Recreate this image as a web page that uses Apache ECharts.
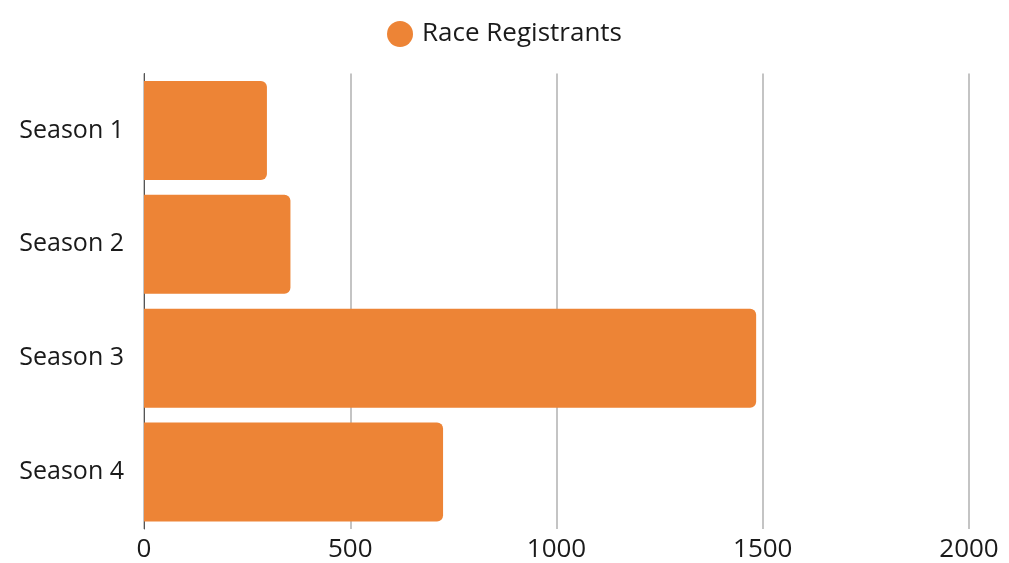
<!DOCTYPE html>
<html>
<head>
<meta charset="utf-8">
<script src="https://cdn.jsdelivr.net/npm/echarts@6/dist/echarts.min.js"></script>
<style>
  html, body { margin: 0; padding: 0; background: #fff; }
  #chart { width: 1009px; height: 563px; }
</style>
</head>
<body>
<div id="chart"></div>
<script>
// Race registrants per season
const seasons = ['Season 1', 'Season 2', 'Season 3', 'Season 4'];
const registrants = [298, 355, 1484, 725];
const xTicks = [0, 500, 1000, 1500, 2000];

const font = '"Open Sans", Inter, sans-serif';
const chart = echarts.init(document.getElementById('chart'));

chart.setOption({
    animation: false,
    backgroundColor: '#ffffff',
    textStyle: { fontFamily: font },
    legend: {
        data: ['Race Registrants'],
        top: 16,
        left: 'center',
        icon: 'circle',
        itemWidth: 26,
        itemHeight: 26,
        itemGap: 10,
        textStyle: { fontSize: 26, color: '#1a1a1a', fontFamily: font, padding: [0, 0, 0, 4] }
    },
    grid: { left: 144, right: 40, top: 73.5, bottom: 33.5 },
    xAxis: {
        type: 'value',
        min: xTicks[0],
        max: xTicks[xTicks.length - 1],
        interval: 500,
        axisLine: { show: false },
        axisTick: { show: false },
        splitLine: { show: true, lineStyle: { color: '#c4c4c4', width: 2 } },
        axisLabel: { fontSize: 26, color: '#1a1a1a', margin: 8, formatter: v => String(v) }
    },
    yAxis: {
        type: 'category',
        data: seasons,
        inverse: true,
        axisLine: { show: true, lineStyle: { color: '#555', width: 1 } },
        axisTick: { show: false },
        axisLabel: { fontSize: 25, color: '#1a1a1a', margin: 20 }
    },
    series: [{
        name: 'Race Registrants',
        type: 'bar',
        data: registrants,
        barCategoryGap: '13%',
        itemStyle: { color: '#ED8436', borderRadius: [0, 6, 6, 0] }
    }]
});
</script>
</body>
</html>
